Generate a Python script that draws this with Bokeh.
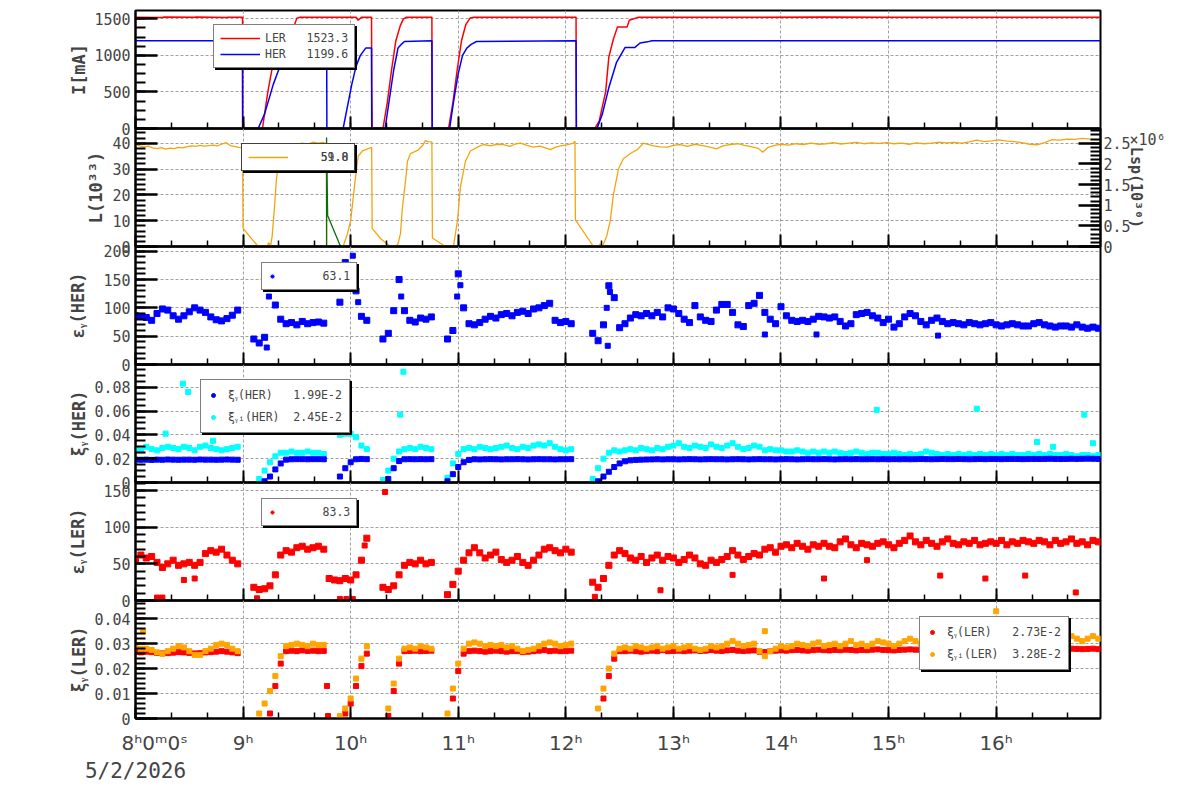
import numpy as np
from bokeh.plotting import figure
from bokeh.layouts import column
from bokeh.models import (Range1d, LinearAxis, SingleIntervalTicker, FixedTicker,
                          PrintfTickFormatter, Legend, LegendItem)
from bokeh.embed import file_html
from bokeh.resources import INLINE

N = None
# ---------------- sample times (every 3 minutes from 8:00) ----------------
sample_minutes = list(range(0, 540, 3))
t_grid = [8 + m / 60 for m in sample_minutes]

S = "\u00a0"
hour_ticks = [8, 9, 10, 11, 12, 13, 14, 15, 16]
hour_labels = [S * 6 + "8ʰ0ᵐ0ˢ", "9ʰ", "10ʰ", "11ʰ", "12ʰ", "13ʰ", "14ʰ", "15ʰ", "16ʰ"]
date_label = "5/2/2026"
lsp_scale_label = "×10⁶"

# ---------------- panel 1: beam currents (mA) ----------------
ler_t = [8.00, 8.25, 8.26, 8.55, 8.56, 8.85, 8.86, 8.995, 8.996, 9.18, 9.23, 9.28, 9.31, 9.37, 9.47,
         9.50, 9.53, 9.80, 10.05, 10.07, 10.10, 10.194, 10.196, 10.20, 10.30, 10.34, 10.38, 10.42,
         10.46, 10.49, 10.52, 10.755, 10.758, 10.91, 10.95, 10.99, 11.03, 11.07, 11.11, 11.15, 11.6,
         12.095, 12.098, 12.27, 12.31, 12.37, 12.40, 12.44, 12.48, 12.57, 12.59, 12.67, 13.2, 13.8,
         14.4, 15.0, 15.6, 16.2, 16.97]
ler_i = [1522, 1518, 1524, 1520, 1525, 1519, 1523, 1522, 0, 0, 500, 900, 1150, 1380, 1380,
         1510, 1522, 1520, 1521, 1480, 1520, 1520, 540, 0, 0, 350, 800, 1200,
         1400, 1500, 1522, 1522, 0, 0, 350, 800, 1200, 1420, 1510, 1523, 1522,
         1523, 0, 0, 100, 500, 980, 1210, 1390, 1390, 1480, 1520, 1522, 1520,
         1524, 1521, 1523, 1522, 1523]
her_t = [8.00, 8.995, 8.996, 9.14, 9.20, 9.28, 9.33, 9.39, 9.46, 9.50, 9.55, 9.777, 9.779, 9.93,
         9.97, 10.01, 10.05, 10.09, 10.14, 10.194, 10.196, 10.32, 10.36, 10.40, 10.44, 10.47, 10.50,
         10.755, 10.758, 10.92, 10.96, 11.00, 11.04, 11.08, 11.12, 11.17, 12.095, 12.098, 12.29,
         12.34, 12.40, 12.47, 12.55, 12.64, 12.69, 12.76, 12.80, 16.97]
her_i = [1199, 1199, 0, 0, 200, 600, 800, 1100, 1100, 1190, 1199, 1199, 0, 0,
         300, 600, 850, 1000, 1100, 1100, 0, 0, 400, 800, 1100, 1150, 1190,
         1199, 0, 0, 400, 750, 1000, 1100, 1150, 1190, 1199, 0, 0,
         200, 560, 900, 1107, 1107, 1170, 1185, 1199, 1199]

# ---------------- panel 2: luminosity ----------------
lum_points = [
    (8.00, 39.5), (8.04, 39.0), (8.08, 38.6), (8.12, 38.9), (8.16, 38.2), (8.20, 37.9), (8.24, 38.3),
    (8.28, 37.7), (8.32, 38.1), (8.36, 37.9), (8.40, 38.4), (8.44, 38.2), (8.48, 38.7), (8.52, 39.0),
    (8.56, 38.8), (8.60, 39.2), (8.64, 38.9), (8.68, 39.1), (8.72, 39.3), (8.76, 39.0), (8.80, 39.6),
    (8.84, 40.2), (8.88, 39.1), (8.92, 38.8), (8.96, 38.4), (8.995, 38.3), (9.000, 7.0), (9.140, 0.0),
    (9.220, 0.0), (9.240, 1.5), (9.255, 0.0), (9.270, 4.0), (9.290, 14.0), (9.310, 26.0), (9.330, 33.0),
    (9.350, 36.0), (9.370, 37.2), (9.400, 36.6), (9.430, 37.4), (9.460, 36.4), (9.490, 38.0),
    (9.510, 39.6), (9.550, 40.0), (9.600, 39.6), (9.650, 40.4), (9.700, 40.0), (9.740, 40.3),
    (9.775, 39.8), (9.777, 0.0), (9.930, 0.0), (9.970, 5.0), (10.000, 10.0), (10.040, 25.0),
    (10.070, 35.0), (10.110, 37.0), (10.170, 38.0), (10.195, 38.4), (10.200, 7.0), (10.280, 3.0),
    (10.370, 0.0), (10.416, 0.0), (10.440, 1.0), (10.463, 5.0), (10.481, 15.0), (10.509, 25.0),
    (10.528, 33.0), (10.556, 36.0), (10.621, 37.2), (10.667, 39.0), (10.695, 41.0), (10.720, 40.6),
    (10.755, 40.5), (10.760, 3.3), (10.881, 0.0), (10.955, 0.0), (10.993, 10.0), (11.020, 23.0),
    (11.067, 33.0), (11.113, 37.0), (11.178, 38.5), (11.234, 39.5), (11.300, 39.0), (11.360, 39.6),
    (11.420, 39.5), (11.480, 38.8), (11.530, 39.7), (11.578, 40.0), (11.640, 39.2), (11.699, 38.5),
    (11.760, 38.9), (11.810, 38.2), (11.857, 37.5), (11.900, 38.4), (11.950, 39.0), (12.010, 39.4),
    (12.071, 40.0), (12.085, 40.8), (12.089, 10.3), (12.257, 0.0), (12.300, 0.0), (12.320, 1.0),
    (12.340, 0.0), (12.380, 4.0), (12.413, 10.0), (12.442, 20.0), (12.489, 30.0), (12.535, 34.0),
    (12.600, 36.0), (12.665, 37.5), (12.721, 40.0), (12.814, 39.0), (12.880, 38.6), (12.944, 38.5),
    (13.000, 39.2), (13.065, 39.5), (13.130, 38.8), (13.200, 39.6), (13.260, 39.2), (13.330, 38.6),
    (13.400, 37.8), (13.460, 39.0), (13.530, 39.5), (13.600, 39.8), (13.660, 39.2), (13.730, 38.6),
    (13.790, 38.0), (13.830, 36.5), (13.880, 38.4), (13.940, 39.2), (14.000, 39.6), (14.070, 39.3),
    (14.140, 39.8), (14.210, 39.5), (14.280, 40.0), (14.350, 39.6), (14.420, 39.8), (14.490, 40.2),
    (14.560, 39.7), (14.630, 40.0), (14.700, 40.3), (14.770, 39.8), (14.840, 40.1), (14.910, 39.9),
    (14.980, 40.2), (15.050, 39.8), (15.120, 40.0), (15.190, 39.6), (15.260, 40.1), (15.330, 39.8),
    (15.400, 40.0), (15.470, 40.4), (15.540, 40.1), (15.610, 40.3), (15.680, 40.0), (15.750, 40.5),
    (15.820, 41.2), (15.890, 40.6), (15.960, 40.9), (16.030, 41.3), (16.100, 40.8), (16.170, 40.6),
    (16.240, 40.2), (16.310, 39.6), (16.380, 39.4), (16.450, 40.2), (16.520, 41.4), (16.590, 41.2),
    (16.660, 41.6), (16.730, 41.5), (16.800, 41.9), (16.870, 41.6), (16.970, 41.2),
]
lum_t = [p[0] for p in lum_points]
lum_v = [p[1] for p in lum_points]
lsp_t = [9.776, 9.776, 9.786, 9.906]
lsp_v = [0.0, 2.64, 0.75, 0.0]   # units of 10^6

# ---------------- panel 3: eps_y(HER) ----------------
eps_her = (
    [86, 85, 83, 78, 90, 98, 96, 86, 80, 86, 93, 100, 96, 92, 84, 79, 77, 81, 87, 96] +
    [N, N, 45, 38, 48, 150, 105, 80, 72, 74, 70, 76, 72, 74, 75, 73, N, N, 110, 180] +
    [165, 130, 85, 78, N, N, 45, 55, 95, 150, 95, 78, 75, 82, 80, 84, N, N, 45, 60] +
    [160, 100, 72, 70, 74, 80, 85, 82, 88, 90, 86, 92, 94, 90, 98, 100, 104, 108, 78, 74] +
    [76, 72, N, N, N, 55, 42, 70, 139, 118, 65, 72, 82, 88, 86, 90, 86, 92, 84, 100] +
    [98, 90, 80, 74, 104, 84, 78, 76, 96, 106, 106, 92, 70, 67, 104, 108, 122, 92, 80, 72] +
    [102, 86, 78, 76, 78, 76, 80, 85, 84, 82, 84, 76, 68, 72, 88, 90, 92, 86, 82, 74] +
    [80, 66, 72, 84, 90, 86, 76, 70, 78, 82, 76, 72, 74, 72, 70, 74, 72, 70, 72, 74] +
    [70, 68, 70, 72, 70, 68, 68, 72, 74, 70, 68, 66, 68, 68, 66, 70, 66, 64, 66, 64]
)
eps_her_out_t = [9.22, 9.24, 9.27, 9.92, 9.97, 10.02, 10.07, 10.47, 11.02, 10.99, 12.38, 12.41, 12.39,
                 13.85, 14.33, 15.46]
eps_her_out_v = [30, 120, 135, 160, 145, 192, 110, 120, 140, 120, 100, 128, 33, 53, 53, 51]

# ---------------- panel 4: xi_y(HER), xi_yi(HER) ----------------
xi_her = (
    [0.0192, 0.0191, 0.0192, 0.0190, 0.0192, 0.0191, 0.0193, 0.0192, 0.0191, 0.0192,
     0.0192, 0.0191, 0.0193, 0.0192, 0.0192, 0.0191, 0.0192, 0.0193, 0.0192, 0.0191] +
    [N, N, N, N, 0.001, 0.005, 0.011, 0.016, 0.0192, 0.0195,
     0.0196, 0.0196, 0.0195, 0.0196, 0.0196, 0.0195, N, N, 0.005, 0.012] +
    [0.017, 0.0195, 0.0198, 0.0196, N, N, N, 0.003, 0.012, 0.018,
     0.0195, 0.0196, 0.0195, 0.0196, 0.0195, 0.0196, N, N, 0.001, 0.007] +
    [0.013, 0.017, 0.019, 0.0195, 0.0194, 0.0195, 0.0196, 0.0195, 0.0194, 0.0195,
     0.0195, 0.0196, 0.0195, 0.0194, 0.0195, 0.0196, 0.0195, 0.0195, 0.0194, 0.0195] +
    [0.0195, 0.0196, N, N, N, N, 0.001, 0.005, 0.009, 0.013,
     0.016, 0.0178, 0.0186, 0.019, 0.0192, 0.0193, 0.0194, 0.0195, 0.0194, 0.0195] +
    [0.0195, 0.0194, 0.0195, 0.0196, 0.0195, 0.0194, 0.0195, 0.0196, 0.0195, 0.0195,
     0.0194, 0.0195, 0.0196, 0.0195, 0.0194, 0.0195, 0.0196, 0.0195, 0.0195, 0.0194] +
    [0.0195, 0.0196, 0.0195, 0.0194, 0.0195, 0.0196, 0.0195, 0.0195, 0.0196, 0.0195,
     0.0194, 0.0195, 0.0196, 0.0195, 0.0196, 0.0195, 0.0195, 0.0196, 0.0195, 0.0196] +
    [0.0195, 0.0196, 0.0195, 0.0196, 0.0195, 0.0196, 0.0197, 0.0196, 0.0195, 0.0196,
     0.0197, 0.0196, 0.0196, 0.0197, 0.0196, 0.0195, 0.0196, 0.0197, 0.0196, 0.0197] +
    [0.0197, 0.0196, 0.0197, 0.0198, 0.0197, 0.0196, 0.0197, 0.0198, 0.0197, 0.0198,
     0.0199, 0.0198, 0.0197, 0.0198, 0.0199, 0.0198, 0.0199, 0.0200, 0.0199, 0.0198]
)
xii_her = (
    [0.028, 0.027, 0.030, 0.028, 0.027, 0.029, 0.030, 0.029, 0.028, 0.030,
     0.029, 0.027, 0.030, 0.031, 0.029, 0.028, 0.027, 0.028, 0.029, 0.030] +
    [N, N, N, 0.003, 0.010, 0.017, 0.022, 0.025, 0.025, 0.026,
     0.025, 0.025, 0.026, 0.025, 0.025, 0.024, N, N, 0.040, 0.041] +
    [0.041, 0.038, 0.031, 0.028, N, N, 0.002, 0.010, 0.020, 0.026,
     0.028, 0.029, 0.028, 0.030, 0.029, 0.028, N, N, 0.004, 0.016] +
    [0.024, 0.028, 0.029, 0.028, 0.030, 0.029, 0.028, 0.029, 0.030, 0.031,
     0.029, 0.028, 0.030, 0.029, 0.031, 0.032, 0.031, 0.033, 0.030, 0.028] +
    [0.027, 0.028, N, N, N, 0.003, 0.012, 0.020, 0.025, 0.027,
     0.026, 0.027, 0.028, 0.027, 0.029, 0.028, 0.027, 0.029, 0.028, 0.030] +
    [0.031, 0.033, 0.030, 0.029, 0.031, 0.030, 0.029, 0.032, 0.030, 0.029,
     0.031, 0.033, 0.030, 0.028, 0.029, 0.031, 0.030, 0.027, 0.028, 0.027] +
    [0.027, 0.026, 0.026, 0.027, 0.026, 0.025, 0.026, 0.025, 0.026, 0.025,
     0.026, 0.025, 0.024, 0.025, 0.026, 0.025, 0.024, 0.025, 0.025, 0.024] +
    [0.024, 0.025, 0.024, 0.023, 0.024, 0.023, 0.024, 0.026, 0.025, 0.024,
     0.023, 0.024, 0.023, 0.024, 0.023, 0.024, 0.023, 0.024, 0.023, 0.024] +
    [0.023, 0.024, 0.023, 0.024, 0.023, 0.023, 0.024, 0.023, 0.024, 0.023,
     0.024, 0.023, 0.023, 0.024, 0.023, 0.022, 0.023, 0.023, 0.022, 0.023]
)
xii_her_out_t = [8.28, 8.44, 8.49, 8.72, 9.28, 9.35, 9.98, 10.46, 10.49, 14.89, 15.82, 16.38, 16.53,
                 16.82, 16.90]
xii_her_out_v = [0.041, 0.083, 0.076, 0.035, 0.054, 0.066, 0.050, 0.057, 0.093, 0.061, 0.062, 0.034,
                 0.030, 0.057, 0.033]

# ---------------- panel 5: eps_y(LER) ----------------
eps_ler = (
    [55, 62, 58, 60, 52, 45, 50, 55, 48, 50, 52, 48, 52, 64, 68, 66, 70, 62, 55, 50] +
    [N, N, 18, 15, 16, 20, 35, 62, 68, 66, 72, 74, 70, 72, 74, 70, 30, 28, 27, 30] +
    [28, 35, 55, 85, N, N, 18, 15, 20, 35, 48, 52, 50, 55, 50, 52, N, N, 8, 22] +
    [40, 55, 65, 72, 65, 58, 62, 66, 56, 52, 55, 60, 52, 48, 55, 62, 70, 72, 68, 65] +
    [70, 66, N, N, N, 25, 18, 30, 48, 62, 68, 64, 58, 55, 60, 52, 58, 62, 55, 60] +
    [58, 52, 56, 62, 58, 50, 48, 55, 52, 56, 60, 68, 62, 56, 60, 64, 62, 70, 72, 66] +
    [74, 76, 72, 78, 74, 70, 76, 74, 78, 74, 72, 80, 84, 76, 72, 78, 76, 74, 78, 80] +
    [76, 72, 78, 82, 88, 80, 76, 82, 78, 74, 80, 84, 78, 76, 80, 78, 82, 76, 78, 80] +
    [78, 82, 76, 80, 78, 82, 80, 78, 82, 80, 76, 82, 78, 80, 84, 78, 80, 76, 82, 80]
)
eps_ler_out_t = [8.20, 8.25, 8.45, 8.55, 9.13, 9.90, 9.96, 10.02, 10.32, 10.13, 12.27, 12.88, 13.55,
                 14.40, 14.80, 15.48, 15.90, 16.27, 16.74]
eps_ler_out_v = [4, 4, 28, 30, 3, 2, 2, 2, 148, 75, 5, 14, 35, 30, 55, 34, 30, 34, 11]

# ---------------- panel 6: xi_y(LER), xi_yi(LER) ----------------
xi_ler = (
    [0.0268, 0.0265, 0.0268, 0.0266, 0.0263, 0.0261, 0.0262, 0.0264, 0.0266, 0.0265,
     0.0263, 0.0261, 0.0262, 0.0265, 0.0266, 0.0268, 0.0270, 0.0268, 0.0265, 0.0262] +
    [N, N, N, N, N, 0.002, 0.013, 0.022, 0.027, 0.0272,
     0.027, 0.0273, 0.0271, 0.0272, 0.027, 0.0271, N, N, N, 0.002] +
    [0.006, 0.013, 0.021, 0.026, N, N, N, 0.001, 0.011, 0.022,
     0.027, 0.0271, 0.0272, 0.027, 0.0271, 0.0272, N, N, N, 0.008] +
    [0.019, 0.026, 0.027, 0.0272, 0.027, 0.0268, 0.027, 0.0272, 0.027, 0.0268,
     0.027, 0.027, 0.0266, 0.0268, 0.027, 0.0272, 0.0274, 0.027, 0.0272, 0.027] +
    [0.027, 0.0272, N, N, N, N, N, 0.008, 0.017, 0.024,
     0.027, 0.027, 0.0272, 0.027, 0.0268, 0.027, 0.0272, 0.027, 0.0274, 0.027] +
    [0.0271, 0.0272, 0.027, 0.0272, 0.0273, 0.0271, 0.0272, 0.0274, 0.0272, 0.0271,
     0.0273, 0.0275, 0.0272, 0.0271, 0.0272, 0.0273, 0.0268, 0.0266, 0.0270, 0.0272] +
    [0.0273, 0.0272, 0.0274, 0.0275, 0.0273, 0.0272, 0.0274, 0.0276, 0.0274, 0.0273,
     0.0275, 0.0274, 0.0276, 0.0275, 0.0273, 0.0275, 0.0274, 0.0276, 0.0277, 0.0275] +
    [0.0274, 0.0273, 0.0275, 0.0276, 0.0277, 0.0276, 0.0275, 0.0276, 0.0275, 0.0277,
     0.0278, 0.0276, 0.0275, 0.0277, 0.0278, 0.0276, 0.0275, 0.0277, 0.0278, 0.0276] +
    [0.0277, 0.0278, 0.0276, 0.0277, 0.0278, 0.0279, 0.0278, 0.0277, 0.0279, 0.0278,
     0.0280, 0.0279, 0.0278, 0.0279, 0.0280, 0.0279, 0.0278, 0.0279, 0.0280, 0.0278]
)
xii_ler = (
    [0.029, 0.028, 0.028, 0.0275, 0.0265, 0.026, 0.027, 0.028, 0.029, 0.0285,
     0.027, 0.0255, 0.0255, 0.027, 0.028, 0.0295, 0.030, 0.0295, 0.028, 0.027] +
    [N, N, N, 0.002, 0.006, 0.011, 0.017, 0.025, 0.029, 0.0295,
     0.030, 0.0295, 0.029, 0.030, 0.0295, 0.0295, N, N, 0.001, 0.004] +
    [0.008, 0.016, 0.024, 0.029, N, N, N, 0.004, 0.014, 0.024,
     0.028, 0.0285, 0.028, 0.029, 0.0285, 0.028, N, N, 0.002, 0.012] +
    [0.022, 0.028, 0.030, 0.0305, 0.030, 0.029, 0.0295, 0.029, 0.0295, 0.0285,
     0.029, 0.028, 0.027, 0.0275, 0.028, 0.029, 0.030, 0.0305, 0.030, 0.029] +
    [0.0295, 0.030, N, N, N, N, 0.004, 0.012, 0.020, 0.026,
     0.028, 0.0285, 0.028, 0.029, 0.0285, 0.028, 0.0285, 0.029, 0.028, 0.0285] +
    [0.029, 0.028, 0.0285, 0.029, 0.028, 0.0275, 0.028, 0.029, 0.0285, 0.029,
     0.030, 0.031, 0.030, 0.029, 0.0295, 0.030, 0.027, 0.025, 0.027, 0.028] +
    [0.029, 0.0285, 0.029, 0.030, 0.0295, 0.029, 0.030, 0.0305, 0.029, 0.0295,
     0.030, 0.029, 0.030, 0.031, 0.0295, 0.030, 0.029, 0.030, 0.031, 0.0305] +
    [0.030, 0.029, 0.030, 0.031, 0.032, 0.031, 0.030, 0.031, 0.0305, 0.031,
     0.032, 0.031, 0.0305, 0.031, 0.032, 0.031, 0.030, 0.031, 0.032, 0.031] +
    [0.031, 0.032, 0.031, 0.0305, 0.031, 0.032, 0.033, 0.032, 0.031, 0.032,
     0.0325, 0.032, 0.031, 0.032, 0.033, 0.032, 0.031, 0.032, 0.033, 0.032]
)
xi_ler_out_t = [9.78, 9.79]
xi_ler_out_v = [0.013, 0.001]
xii_ler_out_t = [8.07, 13.85, 16.0]
xii_ler_out_v = [0.035, 0.035, 0.043]

# legend texts
leg_cur = ["LER" + S * 3 + "1523.3", "HER" + S * 3 + "1199.6"]
leg_lum = [S * 4 + "59.0", S * 4 + "51.8"]
leg_eh = S * 6 + "63.1"
leg_xh = ["ξᵧ(HER)" + S * 3 + "1.99E-2", "ξᵧᵢ(HER)" + S * 2 + "2.45E-2"]
leg_el = S * 6 + "83.3"
leg_xl = ["ξᵧ(LER)" + S * 3 + "2.73E-2", "ξᵧᵢ(LER)" + S * 2 + "3.28E-2"]

# ---------------- styling ----------------
RED = "#ff0000"
BLUE = "#0000ff"
LUMC = "#f2a60d"
CYAN = "#00ffff"
ORANGE = "#ffa500"
GREEN = "#0b6e0b"
GRID = "#a0a0a0"
MONO = "DejaVu Sans Mono"
PAD = 14
FRAME_H = 118

x_range = Range1d(8.0, 16.97)


def arr(v):
    return np.array(v, dtype=float)


def style_label(ax, label, standoff, size="17px"):
    ax.axis_label = label
    ax.axis_label_text_font = MONO
    ax.axis_label_text_font_style = "bold"
    ax.axis_label_text_font_size = size
    ax.axis_label_standoff = standoff


def style_y(ax, label, standoff, interval, minor):
    ax.ticker = SingleIntervalTicker(interval=interval, num_minor_ticks=minor)
    ax.formatter = PrintfTickFormatter(format="%g")
    if label:
        style_label(ax, label, standoff)
    ax.major_label_text_font = MONO
    ax.major_label_text_font_size = "15px"
    ax.major_label_standoff = 5
    ax.major_tick_in = 22
    ax.major_tick_out = 0
    ax.minor_tick_in = 10
    ax.minor_tick_out = 0
    ax.major_tick_line_width = 2.5
    ax.minor_tick_line_width = 2
    ax.axis_line_width = 2


def make_panel(ymax, interval, minor, ylabel, standoff, first=False, last=False):
    top = 10 if first else PAD
    bottom = 80 if last else PAD
    kw = {} if first else {"styles": {"margin-top": f"-{2 * PAD}px"}}
    p = figure(width=1200, height=top + FRAME_H + bottom, x_range=x_range,
               y_range=Range1d(0, ymax),
               min_border_left=135, min_border_right=100,
               min_border_top=top, min_border_bottom=bottom,
               output_backend="svg", toolbar_location=None,
               background_fill_alpha=0, border_fill_alpha=0,
               outline_line_color="black", outline_line_width=2, **kw)
    xa = p.xaxis[0]
    xa.ticker = SingleIntervalTicker(interval=1, num_minor_ticks=3)
    xa.major_tick_in = 12
    xa.major_tick_out = 0
    xa.minor_tick_in = 6
    xa.minor_tick_out = 0
    xa.major_tick_line_width = 2
    xa.minor_tick_line_width = 1.5
    xa.axis_line_width = 2
    if last:
        xa.major_label_overrides = dict(zip(hour_ticks, hour_labels))
        xa.major_label_text_font = "DejaVu Sans"
        xa.major_label_text_font_size = "20px"
        xa.major_label_standoff = 12
    else:
        xa.major_label_text_font_size = "0px"
        xa.major_label_standoff = 0
    style_y(p.yaxis[0], ylabel, standoff, interval, minor)
    for g in (p.xgrid[0], p.ygrid[0]):
        g.grid_line_color = GRID
        g.grid_line_dash = "3 2"
        g.grid_line_width = 1
    return p


def legend_style(glyph_w, glyph_h, spacing, padding, standoff):
    return dict(glyph_width=glyph_w, glyph_height=glyph_h, label_height=glyph_h,
                spacing=spacing, padding=padding, label_standoff=standoff, margin=0,
                label_text_font=MONO, label_text_font_size="11.5px",
                border_line_color="black", border_line_width=1.5)


def add_legend(p, items, x, y, glyph_w, glyph_h, spacing, padding, standoff):
    common = legend_style(glyph_w, glyph_h, spacing, padding, standoff)
    shadow = Legend(items=items, location=(x + 2, y - 2), background_fill_color="black",
                    background_fill_alpha=1, label_text_alpha=0, **common)
    main = Legend(items=items, location=(x, y), background_fill_color="white",
                  background_fill_alpha=1, **common)
    p.add_layout(shadow)
    p.add_layout(main)


def dot(p, color):
    return p.scatter([np.nan], [np.nan], marker="circle", size=7, color=color)


MS = 5
MS_E = 6

# ---- panel 1
p1 = make_panel(1614, 500, 4, "I[mA]", 2, first=True)
r_ler = p1.line(ler_t, ler_i, line_color=RED, line_width=1.5)
r_her = p1.line(her_t, her_i, line_color=BLUE, line_width=1.5)
add_legend(p1, [LegendItem(label=leg_cur[0], renderers=[r_ler]),
                LegendItem(label=leg_cur[1], renderers=[r_her])],
           78, 60, 40, 14, 2, 6, 5)

# ---- panel 2
p2 = make_panel(45.7, 10, 5, "L(10³³)", 3)
p2.extra_y_ranges = {"lsp": Range1d(0, 2.857)}
ra = LinearAxis(y_range_name="lsp")
style_y(ra, None, 0, 0.5, 5)
ra.major_label_standoff = 3
p2.add_layout(ra, "right")
rb = LinearAxis(y_range_name="lsp", ticker=FixedTicker(ticks=[2.585]),
                major_label_overrides={2.585: lsp_scale_label},
                axis_line_color=None, major_tick_line_color=None, minor_tick_line_color=None,
                major_label_standoff=-10, major_label_text_font=MONO,
                major_label_text_font_size="15px")
style_label(rb, "Lsp(10³⁰)", -42, size="15px")
p2.add_layout(rb, "right")
r_lum = p2.line(lum_t, lum_v, line_color=LUMC, line_width=1.3)
p2.line(lsp_t, lsp_v, line_color=GREEN, line_width=1.3, y_range_name="lsp")
add_legend(p2, [LegendItem(label=leg_lum[0], renderers=[r_lum])], 106, 75, 40, 14, 2, 6, 5)
ghost = p2.line([np.nan], [np.nan], line_alpha=0)
p2.add_layout(Legend(items=[LegendItem(label=leg_lum[1], renderers=[ghost])], location=(106, 75),
                     background_fill_color="white", background_fill_alpha=0,
                     **legend_style(40, 14, 2, 6, 5)))

# ---- panel 3
p3 = make_panel(208.3, 50, 5, "εᵧ(HER)", 12)
p3.scatter(t_grid, arr(eps_her), marker="square", size=MS_E, color=BLUE)
p3.scatter(eps_her_out_t, eps_her_out_v, marker="square", size=MS, color=BLUE)
add_legend(p3, [LegendItem(label=leg_eh, renderers=[dot(p3, BLUE)])], 126, 74, 8, 14, 2, 6, 5)

# ---- panel 4
p4 = make_panel(0.0991, 0.02, 4, "ξᵧ(HER)", 2)
p4.scatter(t_grid, arr(xii_her), marker="square", size=MS, color=CYAN)
p4.scatter(xii_her_out_t, xii_her_out_v, marker="square", size=MS, color=CYAN)
p4.scatter(t_grid, arr(xi_her), marker="square", size=MS, color=BLUE)
add_legend(p4, [LegendItem(label=leg_xh[0], renderers=[dot(p4, BLUE)]),
                LegendItem(label=leg_xh[1], renderers=[dot(p4, CYAN)])],
           65, 49, 10, 16, 6, 7, 10)

# ---- panel 5
p5 = make_panel(161, 50, 5, "εᵧ(LER)", 12)
p5.scatter(t_grid, arr(eps_ler), marker="square", size=MS_E, color=RED)
p5.scatter(eps_ler_out_t, eps_ler_out_v, marker="square", size=MS, color=RED)
add_legend(p5, [LegendItem(label=leg_el, renderers=[dot(p5, RED)])], 126, 74, 8, 14, 2, 6, 5)

# ---- panel 6
p6 = make_panel(0.0473, 0.01, 5, "ξᵧ(LER)", 2, last=True)
p6.scatter(t_grid, arr(xi_ler), marker="square", size=MS, color=RED)
p6.scatter(xi_ler_out_t, xi_ler_out_v, marker="square", size=MS, color=RED)
p6.scatter(t_grid, arr(xii_ler), marker="square", size=MS, color=ORANGE)
p6.scatter(xii_ler_out_t, xii_ler_out_v, marker="square", size=MS, color=ORANGE)
add_legend(p6, [LegendItem(label=leg_xl[0], renderers=[dot(p6, RED)]),
                LegendItem(label=leg_xl[1], renderers=[dot(p6, ORANGE)])],
           784, 48, 10, 16, 6, 7, 10)
date_ax = LinearAxis(ticker=FixedTicker(ticks=[8]), major_label_overrides={8: date_label},
                     axis_line_color=None, major_tick_line_color=None, minor_tick_line_color=None,
                     major_label_text_font=MONO, major_label_text_font_size="21px",
                     major_label_standoff=-5)
p6.add_layout(date_ax, "below")

layout = column(p1, p2, p3, p4, p5, p6, spacing=0)
open("out.html", "w", encoding="utf-8").write(file_html(layout, INLINE))
